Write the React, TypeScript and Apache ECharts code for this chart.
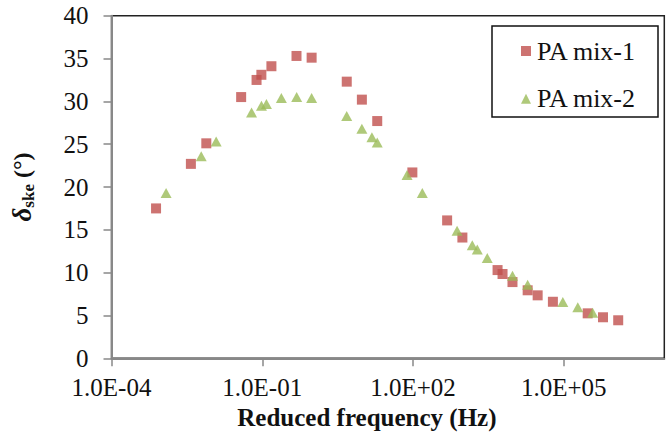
import React, { useEffect, useRef } from "react";
import * as echarts from "echarts";

// Reduced frequency (Hz) and phase angle δske (°)
const mix1Freq = [7.7e-4, 3.8e-3, 7.7e-3, 0.038, 0.077, 0.096, 0.152, 0.48, 0.96, 4.8, 9.6, 19.4, 97, 477, 960, 4810, 6040, 9530, 19100, 30200, 60700, 299000, 603000, 1210000];
const mix1Delta = [17.5, 22.7, 25.1, 30.5, 32.5, 33.1, 34.1, 35.3, 35.1, 32.3, 30.2, 27.7, 21.7, 16.1, 14.1, 10.3, 9.84, 8.9, 7.94, 7.35, 6.6, 5.25, 4.79, 4.44];

const mix2Freq = [1.22e-3, 6.1e-3, 0.0121, 0.0612, 0.0964, 0.121, 0.24, 0.484, 0.96, 4.79, 9.6, 15.2, 19.4, 76, 153, 753, 1510, 1900, 3000, 9530, 19100, 95700, 190000, 376000];
const mix2Delta = [19.3, 23.6, 25.3, 28.7, 29.5, 29.7, 30.4, 30.5, 30.4, 28.3, 26.8, 25.8, 25.2, 21.4, 19.3, 14.9, 13.2, 12.7, 11.7, 9.65, 8.6, 6.57, 5.95, 5.33];

const seriesNames = ["PA mix-1", "PA mix-2"];
const xTickExponents = [-4, -1, 2, 5];
const yTicks = [0, 5, 10, 15, 20, 25, 30, 35, 40];

const FONT = "'Liberation Serif', 'Times New Roman', serif";

function fmtExp(e: number): string {
  const sign = e < 0 ? "-" : "+";
  const a = Math.abs(Math.round(e));
  return "1.0E" + sign + (a < 10 ? "0" + a : String(a));
}

export default function App() {
  const ref = useRef<HTMLDivElement>(null);
  useEffect(() => {
    document.body.style.margin = "0";
    if (!ref.current) return;
    const chart = echarts.init(ref.current, undefined, { renderer: "svg" });
    const toData = (f: number[], d: number[]) => f.map((v, i) => [Math.log10(v), d[i]]);
    chart.setOption({
      animation: false,
      grid: {
        left: 109.5,
        right: 6.7,
        top: 15.7,
        bottom: 78.7,
        show: true,
        borderColor: "#222",
        borderWidth: 1.5,
        backgroundColor: "transparent",
      },
      legend: {
        orient: "vertical",
        left: 516,
        top: 33,
        z: 20,
        itemWidth: 10,
        itemHeight: 10,
        itemGap: 21.7,
        data: seriesNames,
        textStyle: { fontFamily: FONT, fontSize: 26, color: "#111", lineHeight: 25, padding: [0, 0, 0, 1] },
      },
      graphic: [
        {
          type: "rect",
          shape: { x: 492, y: 26, width: 166, height: 91 },
          style: { fill: "#fff", stroke: "#111", lineWidth: 1.5 },
          z: 1,
        },
      ],
      xAxis: {
        type: "value",
        min: -4,
        max: 7,
        interval: 3,
        name: "Reduced frequency (Hz)",
        nameLocation: "middle",
        nameGap: 46,
        nameTextStyle: {
          fontFamily: FONT,
          fontSize: 25,
          fontWeight: "bold",
          color: "#111",
          padding: [0, 42, 0, 0],
        },
        axisLine: { onZero: false, lineStyle: { color: "#888", width: 2 } },
        axisTick: { show: true, length: 8, customValues: xTickExponents, lineStyle: { color: "#888", width: 1.5 } },
        axisLabel: {
          customValues: xTickExponents,
          formatter: (v: number) => fmtExp(v),
          fontFamily: FONT,
          fontSize: 25,
          color: "#111",
          margin: 17,
        },
        splitLine: { show: false },
      },
      yAxis: {
        type: "value",
        min: 0,
        max: 40,
        interval: 5,
        name: "{d|δ}{s|ske}{n| (°)}",
        nameLocation: "middle",
        nameRotate: 90,
        nameGap: 75,
        nameTextStyle: {
          rich: {
            d: { fontFamily: FONT, fontSize: 27, fontWeight: "bold", fontStyle: "italic", color: "#111" },
            s: { fontFamily: FONT, fontSize: 17, fontWeight: "bold", color: "#111", padding: [13, 0, 0, 0] },
            n: { fontFamily: FONT, fontSize: 24, fontWeight: "bold", color: "#111" },
          },
        },
        axisLine: { show: true, onZero: false, lineStyle: { color: "#888", width: 2 } },
        axisTick: { show: true, length: 8, lineStyle: { color: "#888", width: 1.5 } },
        axisLabel: {
          customValues: yTicks,
          fontFamily: FONT,
          fontSize: 25,
          color: "#111",
          margin: 23,
        },
        splitLine: { show: false },
      },
      series: [
        {
          name: seriesNames[0],
          type: "scatter",
          symbol: "rect",
          symbolSize: 10,
          itemStyle: { color: "#C0504D" },
          data: toData(mix1Freq, mix1Delta),
          z: 2,
        },
        {
          name: seriesNames[1],
          type: "scatter",
          symbol: "triangle",
          symbolSize: [11, 10],
          itemStyle: { color: "#9BBB59" },
          data: toData(mix2Freq, mix2Delta),
          z: 3,
        },
      ],
    });
    return () => chart.dispose();
  }, []);
  return <div ref={ref} style={{ width: 671, height: 437 }} />;
}
